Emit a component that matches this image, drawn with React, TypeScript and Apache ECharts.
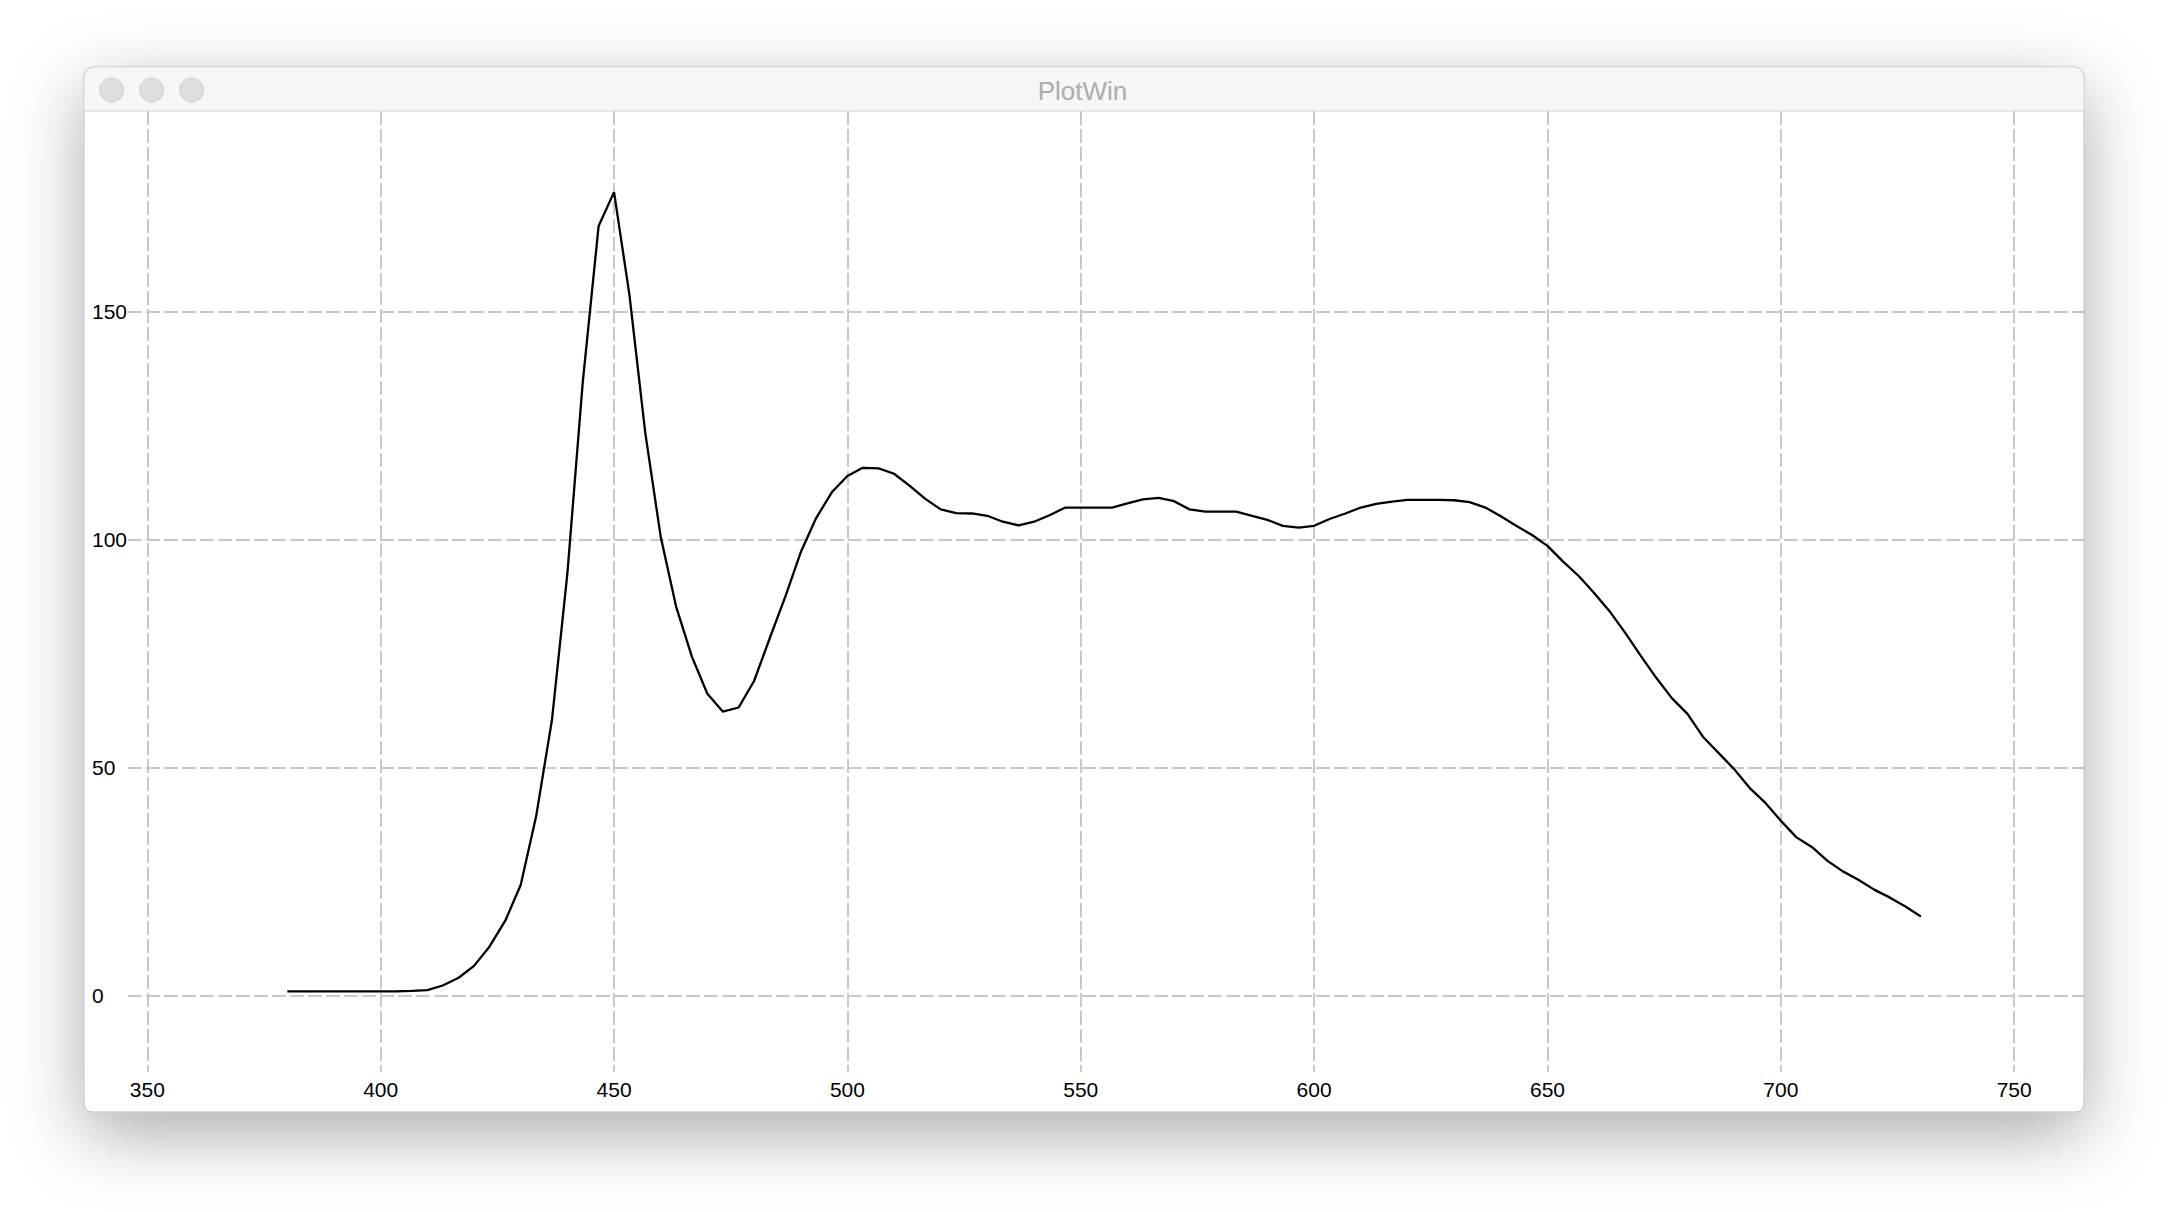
import React, { useEffect, useRef } from "react";
import * as echarts from "echarts";

// Wavelengths (nm) of the plotted samples
const wavelengths: number[] = [
  380.0, 383.3, 386.7, 390.0, 393.3, 396.7, 400.0, 403.3, 406.7, 410.0,
  413.3, 416.7, 420.0, 423.3, 426.7, 430.0, 433.3, 436.7, 440.0, 443.3,
  446.7, 450.0, 453.3, 456.7, 460.0, 463.3, 466.7, 470.0, 473.3, 476.7,
  480.0, 483.3, 486.7, 490.0, 493.3, 496.7, 500.0, 503.3, 506.7, 510.0,
  513.3, 516.7, 520.0, 523.3, 526.7, 530.0, 533.3, 536.7, 540.0, 543.3,
  546.7, 550.0, 553.3, 556.7, 560.0, 563.3, 566.7, 570.0, 573.3, 576.7,
  580.0, 583.3, 586.7, 590.0, 593.3, 596.7, 600.0, 603.3, 606.7, 610.0,
  613.3, 616.7, 620.0, 623.3, 626.7, 630.0, 633.3, 636.7, 640.0, 643.3,
  646.7, 650.0, 653.3, 656.7, 660.0, 663.3, 666.7, 670.0, 673.3, 676.7,
  680.0, 683.3, 686.7, 690.0, 693.3, 696.7, 700.0, 703.3, 706.7, 710.0,
  713.3, 716.7, 720.0, 723.3, 726.7, 730.0,
];

// Intensity values
const intensity: number[] = [
  1.0, 1.0, 1.0, 1.0, 1.0, 1.0, 1.0, 1.0, 1.1, 1.3,
  2.3, 4.0, 6.6, 10.8, 16.5, 24.3, 39.3, 60.5, 92.5, 134.5,
  168.7, 176.1, 153.6, 123.3, 100.6, 85.3, 74.3, 66.2, 62.3, 63.2,
  69.0, 78.2, 87.5, 97.2, 104.7, 110.4, 113.9, 115.7, 115.6, 114.4,
  111.8, 108.9, 106.6, 105.8, 105.7, 105.2, 103.9, 103.1, 103.9, 105.3,
  107.0, 107.0, 107.0, 107.0, 107.9, 108.8, 109.1, 108.4, 106.6, 106.1,
  106.1, 106.1, 105.2, 104.3, 103.0, 102.6, 103.0, 104.5, 105.7, 107.0,
  107.8, 108.3, 108.7, 108.7, 108.7, 108.6, 108.2, 107.0, 105.1, 103.0,
  101.0, 98.6, 95.2, 92.0, 88.3, 84.3, 79.5, 74.5, 69.7, 65.2,
  61.8, 56.8, 53.2, 49.7, 45.6, 42.3, 38.4, 34.8, 32.6, 29.6,
  27.3, 25.4, 23.3, 21.6, 19.6, 17.4,
];

const xTicks: number[] = [350, 400, 450, 500, 550, 600, 650, 700, 750];
const yTicks: number[] = [0, 50, 100, 150];
const windowTitle = "PlotWin";

export default function App() {
  const ref = useRef<HTMLDivElement>(null);

  useEffect(() => {
    if (!ref.current) return;
    const chart = echarts.init(ref.current, undefined, { renderer: "svg" });

    const gridColor = "#c9c9c9";
    const labelFont = "'Liberation Sans', Arial, Helvetica, sans-serif";

    chart.setOption({
      animation: false,
      backgroundColor: "#ffffff",
      graphic: [
        {
          type: "rect",
          z: 0,
          shape: { x: 84, y: 67, width: 2000, height: 1045, r: [10, 10, 8, 8] },
          style: {
            fill: "#ffffff",
            stroke: "#bdbdbd",
            lineWidth: 1,
            shadowBlur: 70,
            shadowOffsetY: 22,
            shadowColor: "rgba(0,0,0,0.33)",
          },
        },
        {
          type: "rect",
          z: 1,
          shape: { x: 84.5, y: 67.5, width: 1999, height: 43.5, r: [10, 10, 0, 0] },
          style: { fill: "#f6f6f6" },
        },
        {
          type: "line",
          z: 1,
          shape: { x1: 84, y1: 111, x2: 2084, y2: 111 },
          style: { stroke: "#d3d3d3", lineWidth: 1 },
        },
        {
          type: "circle",
          z: 2,
          shape: { cx: 111.7, cy: 90, r: 12 },
          style: { fill: "#dedede", stroke: "#d0d0d0", lineWidth: 1 },
        },
        {
          type: "circle",
          z: 2,
          shape: { cx: 151.7, cy: 90, r: 12 },
          style: { fill: "#dedede", stroke: "#d0d0d0", lineWidth: 1 },
        },
        {
          type: "circle",
          z: 2,
          shape: { cx: 191.7, cy: 90, r: 12 },
          style: { fill: "#dedede", stroke: "#d0d0d0", lineWidth: 1 },
        },
        {
          type: "text",
          z: 2,
          x: 1082.5,
          y: 90.5,
          style: {
            text: windowTitle,
            fill: "#adadad",
            font: "26px 'Liberation Sans', Arial, Helvetica, sans-serif",
            align: "center",
            verticalAlign: "middle",
          },
        },
      ],
      grid: {
        left: 128,
        right: 84,
        top: 111,
        bottom: 140,
        containLabel: false,
      },
      xAxis: {
        type: "value",
        min: 345.86,
        max: 764.96,
        z: 10,
        axisLine: { show: false },
        axisTick: { show: false, customValues: xTicks },
        axisLabel: {
          customValues: xTicks,
          color: "#000000",
          fontSize: 21,
          fontFamily: labelFont,
          margin: 7,
        },
        splitLine: {
          show: true,
          lineStyle: { color: gridColor, width: 2, type: [14, 4] },
        },
      },
      yAxis: {
        type: "value",
        min: -16.65,
        max: 193.87,
        z: 10,
        axisLine: { show: false },
        axisTick: { show: false, customValues: yTicks },
        axisLabel: {
          customValues: yTicks,
          color: "#000000",
          fontSize: 21,
          fontFamily: labelFont,
          align: "left",
          margin: 36,
        },
        splitLine: {
          show: true,
          lineStyle: { color: gridColor, width: 2, type: [14, 4] },
        },
      },
      series: [
        {
          type: "line",
          z: 20,
          data: wavelengths.map((w, i) => [w, intensity[i]]),
          symbol: "none",
          lineStyle: { color: "#000000", width: 2.3 },
        },
      ],
    });

    return () => {
      chart.dispose();
    };
  }, []);

  return (
    <div
      ref={ref}
      style={{ position: "fixed", left: 0, top: 0, width: 2168, height: 1212 }}
    />
  );
}
